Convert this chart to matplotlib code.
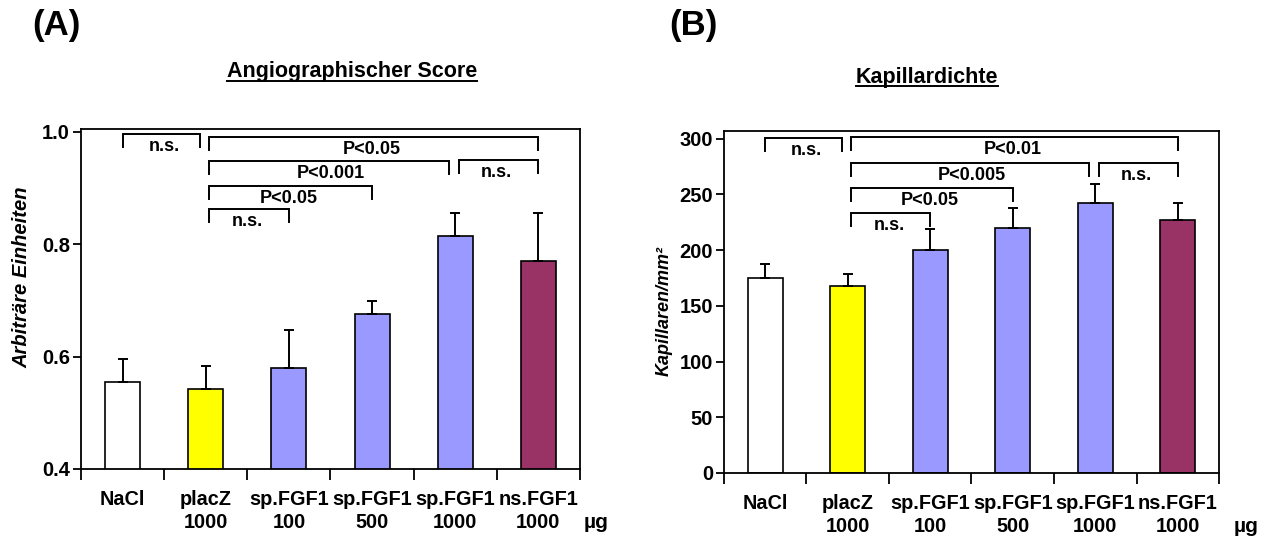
import numpy as np
import matplotlib
matplotlib.use('Agg')
import matplotlib.pyplot as plt
from matplotlib.lines import Line2D

plt.rcParams['font.family'] = ['Liberation Sans', 'DejaVu Sans']
plt.rcParams['font.weight'] = 'bold'

# data
groups = ['NaCl', 'placZ\n1000', 'sp.FGF1\n100', 'sp.FGF1\n500', 'sp.FGF1\n1000', 'ns.FGF1\n1000']
bar_colors = ['white', '#FFFF00', '#9999FF', '#9999FF', '#9999FF', '#993366']

score_mean = [0.555, 0.542, 0.579, 0.675, 0.814, 0.771]
score_err = [0.040, 0.042, 0.069, 0.024, 0.042, 0.085]

cap_mean = [175, 168, 200, 219.5, 242, 227.5]
cap_err = [13, 10.5, 19, 18, 17, 14.5]

# significance brackets: (first group, last group, height, label)
score_brackets = [(0, 1, 0.996, 'n.s.'), (1, 5, 0.991, 'P<0.05'),
                  (1, 4, 0.948, 'P<0.001'), (4, 5, 0.950, 'n.s.'),
                  (1, 3, 0.903, 'P<0.05'), (1, 2, 0.862, 'n.s.')]
cap_brackets = [(0, 1, 301, 'n.s.'), (1, 5, 301.5, 'P<0.01'),
                (1, 4, 278, 'P<0.005'), (4, 5, 278, 'n.s.'),
                (1, 3, 256, 'P<0.05'), (1, 2, 233.5, 'n.s.')]


def draw_panel(ax, mean, err, brackets, ylim, yticks, fmt):
    x = np.arange(len(groups))
    ax.bar(x, mean, width=0.42, color=bar_colors, edgecolor='black', linewidth=1.2, zorder=2)
    ax.errorbar(x, mean, yerr=[np.zeros(len(err)), err], fmt='none', ecolor='black',
                elinewidth=1.4, capsize=3.5, capthick=1.4, zorder=3)
    ax.set_xlim(-0.5, 5.5)
    ax.set_ylim(*ylim)
    ax.set_yticks(yticks)
    ax.set_yticklabels([fmt % t for t in yticks], fontsize=14.5, fontweight='bold')
    ax.set_xticks(np.arange(-0.5, 6, 1))
    ax.set_xticklabels([])
    ax.set_xticks(x, minor=True)
    ax.set_xticklabels(groups, minor=True, fontsize=14.3, fontweight='bold', linespacing=1.25)
    ax.tick_params(axis='x', which='major', direction='out', length=8, width=1.3)
    ax.tick_params(axis='x', which='minor', length=0, pad=15)
    ax.tick_params(axis='y', direction='out', length=6, width=1.3, pad=2)
    for s in ax.spines.values():
        s.set_linewidth(1.3)

    leg = 0.038 * (ylim[1] - ylim[0])
    for i, j, h, lab in brackets:
        x1 = i + (0.04 if i in (1, 4) else 0)
        x2 = j - (0.075 if j in (1, 4) else 0)
        ax.plot([x1, x1, x2, x2], [h - leg, h, h, h - leg], color='black', lw=1.4,
                solid_joinstyle='miter', zorder=4)
        ax.text((i + j) / 2, h - leg * 0.95, lab, ha='center', va='center',
                fontsize=13, fontweight='bold')


fig = plt.figure(figsize=(12.74, 5.38), dpi=100)
W, H = 1274, 538

axA = fig.add_axes([81 / W, 1 - 469 / H, 499 / W, 340 / H])
draw_panel(axA, score_mean, score_err, score_brackets, (0.4, 1.005),
           [0.4, 0.6, 0.8, 1.0], '%.1f')

axB = fig.add_axes([724 / W, 1 - 473 / H, 495 / W, 342 / H])
draw_panel(axB, cap_mean, cap_err, cap_brackets, (0, 307),
           [0, 50, 100, 150, 200, 250, 300], '%d')

fig.text(22 / W, 1 - 277 / H, 'Arbiträre Einheiten', rotation=90, ha='center', va='center',
         fontsize=14.5, fontweight='bold', style='italic')
fig.text(664 / W, 1 - 311 / H, 'Kapillaren/mm²', rotation=90, ha='center', va='center',
         fontsize=13, fontweight='bold', style='italic')

fig.text(56 / W, 1 - 26 / H, '(A)', ha='center', va='center', fontsize=25, fontweight='bold')
fig.text(693 / W, 1 - 26 / H, '(B)', ha='center', va='center', fontsize=25, fontweight='bold')

fig.text(596 / W, 1 - 522 / H, 'µg', ha='center', va='center', fontsize=15, fontweight='bold')
fig.text(1246 / W, 1 - 527 / H, 'µg', ha='center', va='center', fontsize=15, fontweight='bold')

titles = []
titles.append(fig.text(352 / W, 1 - 72 / H, 'Angiographischer Score', ha='center', va='center',
                       fontsize=15.5, fontweight='bold'))
titles.append(fig.text(927 / W, 1 - 77 / H, 'Kapillardichte', ha='center', va='center',
                       fontsize=15.5, fontweight='bold'))

# underline the titles
fig.canvas.draw()
r = fig.canvas.get_renderer()
for t in titles:
    bb = t.get_window_extent(r).transformed(fig.transFigure.inverted())
    y = bb.y0 + 0.002
    fig.add_artist(Line2D([bb.x0, bb.x1], [y, y], transform=fig.transFigure,
                          color='black', lw=1.4))

fig.savefig('out.png', dpi=100)
